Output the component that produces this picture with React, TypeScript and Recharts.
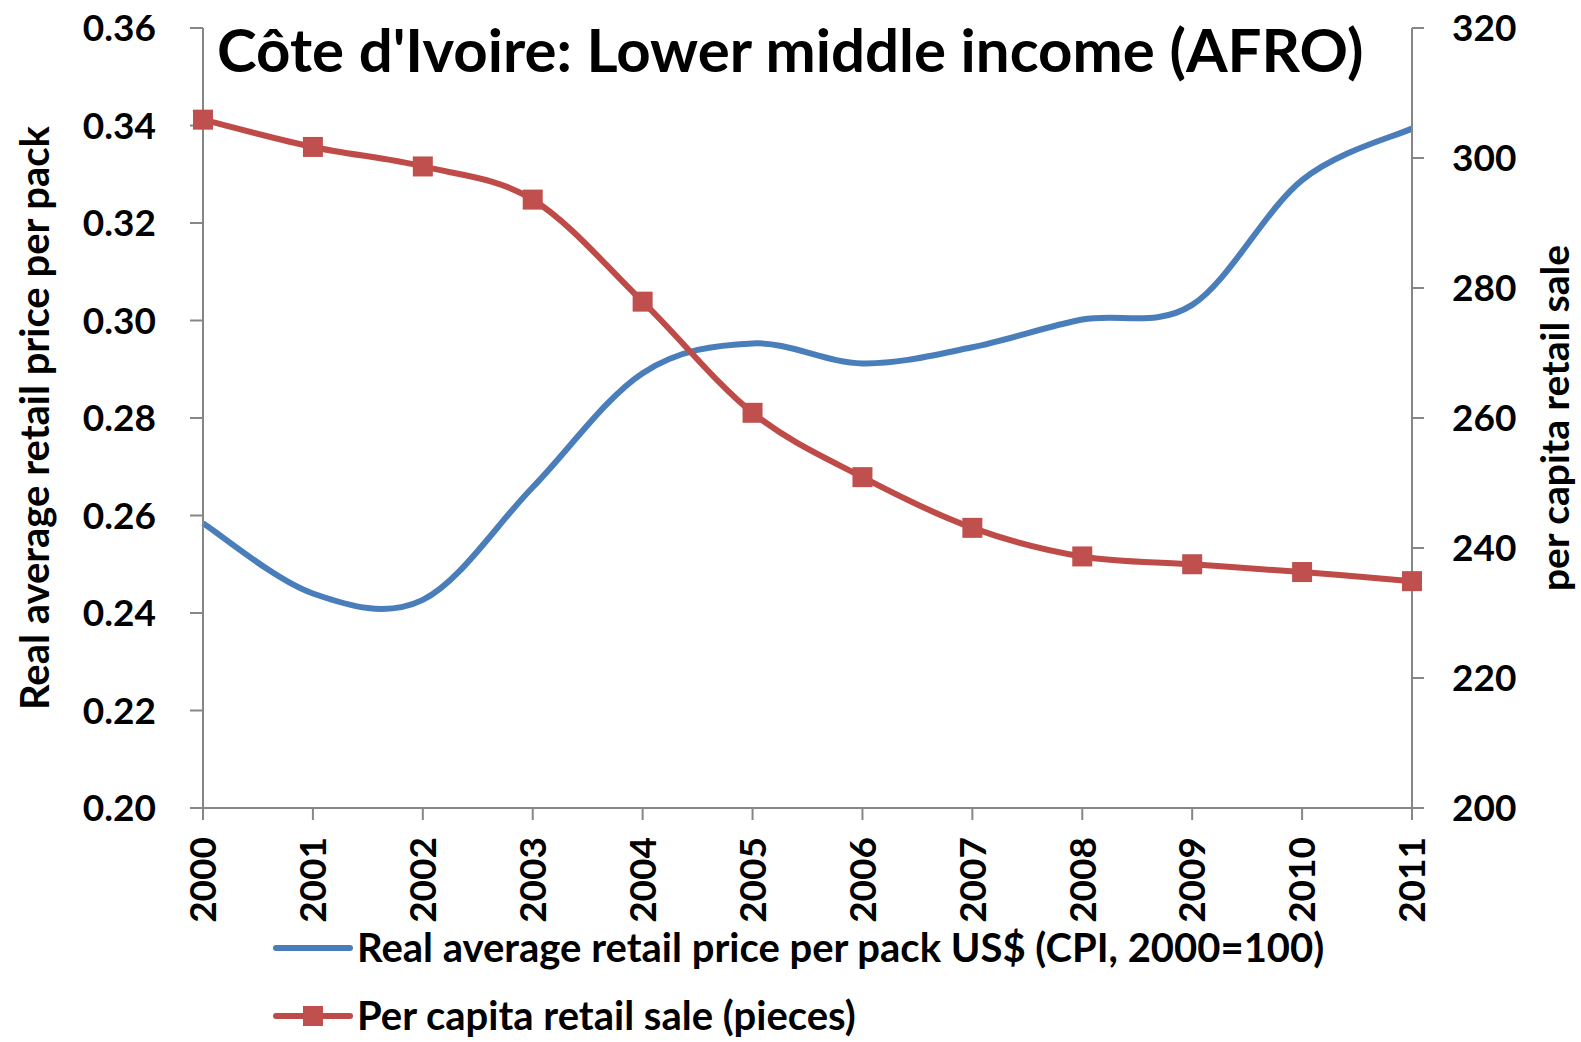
import React from "react";
import {
  LineChart,
  Line,
  XAxis,
  YAxis,
  Legend,
  Customized,
} from "recharts";

const years = ["2000", "2001", "2002", "2003", "2004", "2005", "2006", "2007", "2008", "2009", "2010", "2011"];
const priceValues = [0.2584, 0.244, 0.2427, 0.2658, 0.2892, 0.2953, 0.2912, 0.2945, 0.3002, 0.3032, 0.3288, 0.3394];
const salesValues = [305.9, 301.7, 298.7, 293.6, 277.9, 260.8, 250.9, 243.1, 238.7, 237.5, 236.3, 234.9];
const leftTicks = [0.2, 0.22, 0.24, 0.26, 0.28, 0.3, 0.32, 0.34, 0.36];
const rightTicks = [200, 220, 240, 260, 280, 300, 320];

const titleText = "Côte d'Ivoire: Lower middle income (AFRO)";
const priceName = "Real average retail price per pack US$ (CPI, 2000=100)";
const salesName = "Per capita retail sale (pieces)";
const leftTitle = "Real average retail price per pack";
const rightTitle = "per capita retail sale";
const legendOrder = ["price", "sales"];

const FONT = "Lato, 'Open Sans', sans-serif";
const BLUE = "#4A7EBB";
const RED = "#BE4B48";
const AXIS = "#868686";

const data = years.map((y, i) => ({ year: y, price: priceValues[i], sales: salesValues[i] }));

// excel-ish smoothing (catmull-rom through the points)
const excelSmooth = (context: any) => {
  let pts: number[][] = [];
  return {
    areaStart() {},
    areaEnd() {},
    lineStart() {
      pts = [];
    },
    point(x: number, y: number) {
      pts.push([+x, +y]);
    },
    lineEnd() {
      if (!pts.length) return;
      context.moveTo(pts[0][0], pts[0][1]);
      for (let i = 0; i < pts.length - 1; i++) {
        const p0 = pts[Math.max(i - 1, 0)];
        const p1 = pts[i];
        const p2 = pts[i + 1];
        const p3 = pts[Math.min(i + 2, pts.length - 1)];
        context.bezierCurveTo(
          p1[0] + (p2[0] - p0[0]) / 6,
          p1[1] + (p2[1] - p0[1]) / 6,
          p2[0] - (p3[0] - p1[0]) / 6,
          p2[1] - (p3[1] - p1[1]) / 6,
          p2[0],
          p2[1]
        );
      }
    },
  };
};

const SquareDot = (props: any) => {
  const { cx, cy, index } = props;
  if (cx == null || cy == null) return null;
  return <rect key={`sq-${index}`} x={cx - 10} y={cy - 10} width={20} height={20} fill="#C0504D" />;
};

const YearTick = (props: any) => {
  const { x, y, payload } = props;
  return (
    <text
      x={x}
      y={y}
      transform={`rotate(-90 ${x} ${y})`}
      textAnchor="end"
      dy="0.36em"
      fontFamily={FONT}
      fontWeight={700}
      fontSize={37}
      fill="#000"
    >
      {payload.value}
    </text>
  );
};

const AxisTitle = (dx: number, text: string, size: number) => (props: any) => {
  const vb = props.viewBox;
  const cx = vb.x + dx;
  const cy = vb.y + vb.height / 2;
  return (
    <text
      x={cx}
      y={cy}
      transform={`rotate(-90 ${cx} ${cy})`}
      textAnchor="middle"
      dy="0.36em"
      fontFamily={FONT}
      fontWeight={700}
      fontSize={size}
      fill="#000"
    >
      {text}
    </text>
  );
};

const Title = () => (
  <text x={217} y={72} fontFamily={FONT} fontWeight={700} fontSize={60} fill="#000">
    {titleText}
  </text>
);

const LegendBox = (props: any) => {
  const payload = [...(props.payload || [])].sort(
    (a: any, b: any) => legendOrder.indexOf(a.dataKey) - legendOrder.indexOf(b.dataKey)
  );
  return (
    <svg width={1280} height={126} style={{ display: "block" }}>
      {payload.map((entry: any, i: number) => {
        const cy = 33 + i * 68;
        return (
          <g key={i}>
            <line x1={6} x2={80} y1={cy} y2={cy} stroke={entry.color} strokeWidth={6} strokeLinecap="round" />
            {entry.dataKey === "sales" && <rect x={33} y={cy - 10} width={20} height={20} fill="#C0504D" />}
            <text x={87} y={cy} dy="0.36em" fontFamily={FONT} fontWeight={700} fontSize={40} fill="#000">
              {entry.value}
            </text>
          </g>
        );
      })}
    </svg>
  );
};

const App = () => {
  return (
    <div style={{ position: "absolute", left: 0, top: 0, background: "#fff" }}>
      <LineChart width={1581} height={1042} data={data} margin={{ top: 28, right: 0, bottom: 0, left: 0 }}>
        <XAxis
          dataKey="year"
          xAxisId="x"
          height={234}
          tick={<YearTick />}
          tickSize={12}
          tickMargin={17}
          interval={0}
          axisLine={{ stroke: AXIS, strokeWidth: 2 }}
          tickLine={{ stroke: AXIS, strokeWidth: 2 }}
        />
        <YAxis
          yAxisId="left"
          orientation="left"
          width={203}
          domain={[0.2, 0.36]}
          ticks={leftTicks}
          tickFormatter={(v: number) => v.toFixed(2)}
          tickSize={13}
          tickMargin={34}
          interval={0}
          tick={{ fontFamily: FONT, fontWeight: 700, fontSize: 37, fill: "#000" }}
          axisLine={{ stroke: AXIS, strokeWidth: 2 }}
          tickLine={{ stroke: AXIS, strokeWidth: 2 }}
          label={{ content: AxisTitle(35, leftTitle, 40) }}
        />
        <YAxis
          yAxisId="right"
          orientation="right"
          width={169}
          domain={[200, 320]}
          ticks={rightTicks}
          tickSize={12}
          tickMargin={28}
          interval={0}
          tick={{ fontFamily: FONT, fontWeight: 700, fontSize: 37, fill: "#000" }}
          axisLine={{ stroke: AXIS, strokeWidth: 2 }}
          tickLine={{ stroke: AXIS, strokeWidth: 2 }}
          label={{ content: AxisTitle(143, rightTitle, 39) }}
        />
        <Line
          xAxisId="x"
          yAxisId="left"
          dataKey="price"
          name={priceName}
          type={excelSmooth as any}
          stroke={BLUE}
          strokeWidth={6}
          dot={false}
          activeDot={false}
          isAnimationActive={false}
        />
        <Line
          xAxisId="x"
          yAxisId="right"
          dataKey="sales"
          name={salesName}
          type={excelSmooth as any}
          stroke={RED}
          strokeWidth={6}
          dot={<SquareDot />}
          activeDot={false}
          isAnimationActive={false}
        />
        <Legend
          layout="vertical"
          verticalAlign="middle"
          align="center"
          content={<LegendBox />}
          wrapperStyle={{ left: 270, top: 915, width: 1280, height: 126 }}
        />
        <Customized component={<Title />} />
      </LineChart>
    </div>
  );
};

export default App;
